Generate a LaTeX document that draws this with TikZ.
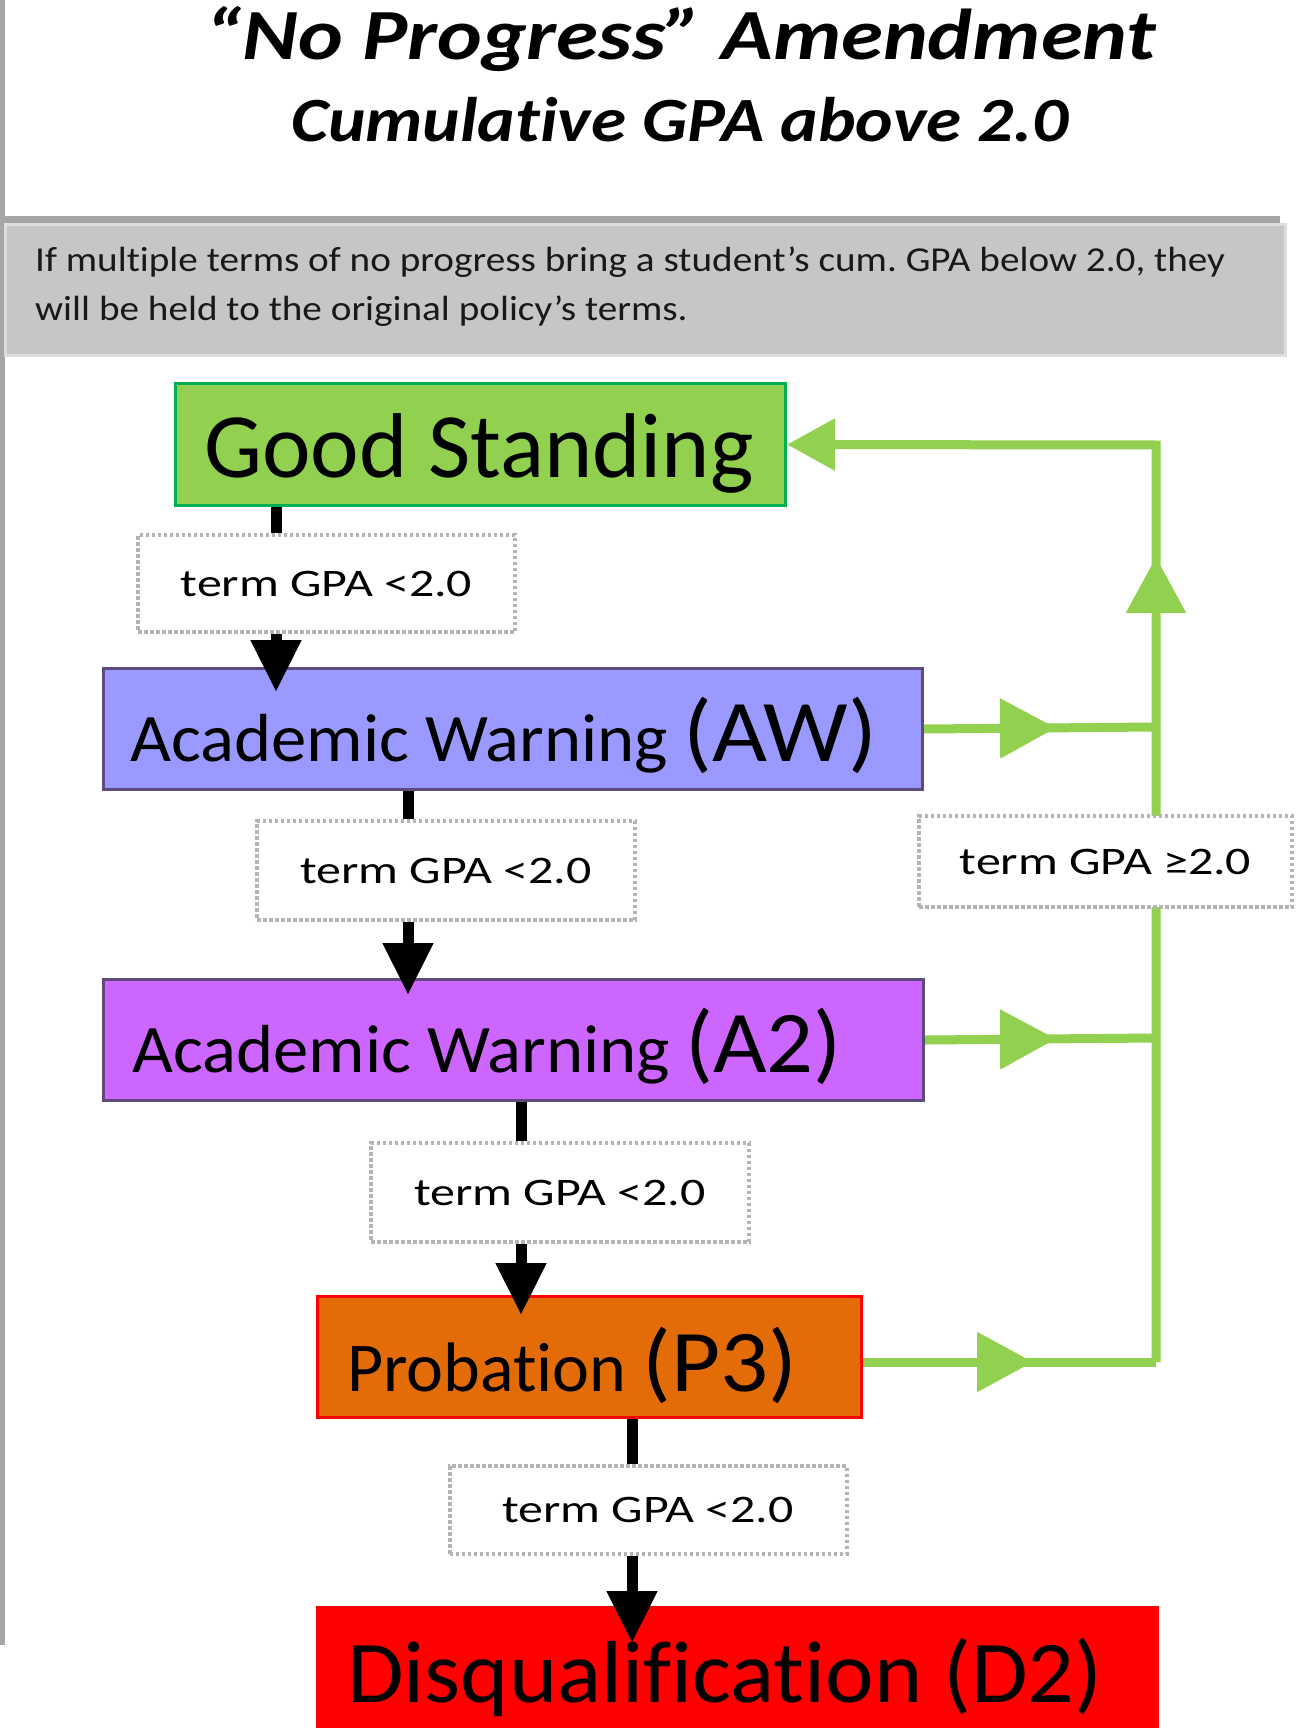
\documentclass[tikz,border=0pt]{standalone}
\usepackage{fontspec}
\usepackage{graphicx}
\setmainfont[Ligatures=CommonOff]{Carlito}
\usetikzlibrary{arrows.meta,decorations.markings}
\definecolor{gsfill}{HTML}{92D050}
\definecolor{gsdraw}{HTML}{00B050}
\definecolor{awfill}{HTML}{9999FF}
\definecolor{purpdraw}{HTML}{5F4A7E}
\definecolor{atwofill}{HTML}{CC66FF}
\definecolor{pfill}{HTML}{E36C09}
\definecolor{dfill}{HTML}{FF0000}
\definecolor{glinec}{HTML}{92D050}
\definecolor{dashgray}{HTML}{B4B4B4}
\definecolor{bandfill}{HTML}{C6C6C6}
\definecolor{bandedge}{HTML}{DDDDDD}
\definecolor{banddark}{HTML}{A6A6A6}
\newcommand{\hs}[2]{\scalebox{#1}[1]{#2}}
\frenchspacing
\begin{document}
\begin{tikzpicture}[x=1pt,y=-1pt,
  statebox/.style={rectangle, anchor=north west, inner sep=0pt, line width=3pt},
  lbl/.style={rectangle, draw=dashgray, fill=white, line width=4pt,
    dash pattern=on 3.5pt off 2.5pt, inner sep=0pt, text height=25pt, text depth=0pt,
    font=\fontsize{39}{39}\selectfont},
  stext/.style={anchor=base west, inner sep=0pt},
  blk/.style={line width=11pt, draw=black},
  blkarrow/.style={blk, -{Triangle[length=52pt,width=48pt]}},
  grn/.style={line width=9pt, draw=glinec},
  garrow/.style={postaction={decorate}, decoration={markings,
    mark=at position #1 with {\arrow{Triangle[length=56pt,width=58pt]}}}},
]
\useasboundingbox (0,0) rectangle (1295,1728);
\clip (0,0) rectangle (1295,1728);
\fill[white] (0,0) rectangle (1295,1728);

% left rule
\draw[banddark, line width=5pt] (2.5,0) -- (2.5,1645);

% titles
\node[anchor=base, inner sep=0pt, font=\fontsize{72}{72}\selectfont\bfseries\itshape] (title) at (681,60) {\hs{1.18}{“No Progress” Amendment}};
\node[anchor=base, inner sep=0pt, font=\fontsize{63}{63}\selectfont\bfseries\itshape] (subtitle) at (680,142) {\hs{1.13}{Cumulative GPA above 2.0}};

% note band
\fill[banddark] (0,216) rectangle (1280,224);
\node[anchor=north west, inner sep=0pt, fill=bandfill, draw=bandedge, line width=3pt,
  minimum width=1280pt, minimum height=131pt] (band) at (4,223) {};
\node[stext, font=\fontsize{35}{35}\selectfont, text=black!90] (bt1) at (35,272) {\hs{1.12}{If multiple terms of no progress bring a student’s cum. GPA below 2.0, they}};
\node[stext, font=\fontsize{35}{35}\selectfont, text=black!90] (bt2) at (35,320) {\hs{1.12}{will be held to the original policy’s terms.}};

% state boxes
\node[statebox, fill=gsfill, draw=gsdraw, minimum width=610pt, minimum height=122pt] (GS) at (174,382) {};
\node[statebox, fill=awfill, draw=purpdraw, minimum width=819pt, minimum height=121pt] (AW) at (102,667) {};
\node[statebox, fill=atwofill, draw=purpdraw, minimum width=820pt, minimum height=121pt] (A2) at (102,978) {};
\node[statebox, fill=pfill, draw=red, minimum width=544pt, minimum height=121pt] (P3) at (316,1295) {};
\node[statebox, fill=dfill, draw=red, minimum width=840pt, minimum height=200pt] (D2) at (316,1606) {};

\node[stext, font=\fontsize{92}{92}\selectfont] (GSt) at (204,477) {Good Standing};
\node[stext] (AWt) at (130,761) {\fontsize{68}{68}\selectfont\hs{1.04}{Academic Warning} \fontsize{88}{88}\selectfont\hs{1.08}{(AW)}};
\node[stext] (A2t) at (132,1072) {\fontsize{68}{68}\selectfont\hs{1.04}{Academic Warning} \fontsize{88}{88}\selectfont\hs{1.05}{(A2)}};
\node[stext] (P3t) at (347,1391) {\fontsize{70}{70}\selectfont Probation \fontsize{88}{88}\selectfont\hs{1.08}{(P3)}};
\node[stext, font=\fontsize{88}{88}\selectfont] (D2t) at (347,1702) {\hs{1.045}{Disqualification (D2)}};

% junction points of the green return line
\coordinate (jAW) at (1156,727);
\coordinate (jA2) at (1156,1038);
\coordinate (jP) at (1156,1362);
\coordinate (jT) at (1156,445);

% green connectors
\draw[grn, garrow=132pt] (AW.east) -- (jAW);
\draw[grn, garrow=131pt] (A2.east) -- (jA2);
\draw[grn, garrow=170pt] (P3.east |- jP) -- (jP);
\draw[grn, garrow=805pt, -{Triangle[length=48pt,width=50pt]}] (jP) -- (jT) -- (GS.east);

% condition labels
\node[lbl, minimum width=377pt, minimum height=97pt] (L1) at (326.5,583.5) {\hs{1.28}{term GPA <2.0}};
\node[lbl, minimum width=378pt, minimum height=99pt] (L2) at (446,870.5) {\hs{1.28}{term GPA <2.0}};
\node[lbl, minimum width=378pt, minimum height=99pt] (L3) at (560,1192.5) {\hs{1.28}{term GPA <2.0}};
\node[lbl, minimum width=397pt, minimum height=88pt] (L4) at (648,1510) {\hs{1.28}{term GPA <2.0}};
\node[lbl, minimum width=373pt, minimum height=91pt] (L5) at (1105.5,861.5) {\hs{1.28}{term GPA ≥2.0}};

% black connectors
\draw[blk] (276,0 |- GS.south) -- (276,0 |- L1.north);
\draw[blkarrow, shorten >=-25pt] (276,0 |- L1.south) -- (276,0 |- AW.north);
\draw[blk] (408,0 |- AW.south) -- (408,0 |- L2.north);
\draw[blkarrow, shorten >=-17pt] (408,0 |- L2.south) -- (408,0 |- A2.north);
\draw[blk] (521,0 |- A2.south) -- (521,0 |- L3.north);
\draw[blkarrow, shorten >=-20pt] (521,0 |- L3.south) -- (521,0 |- P3.north);
\draw[blk] (632,0 |- P3.south) -- (632,0 |- L4.north);
\draw[blkarrow, shorten >=-37pt] (632,0 |- L4.south) -- (632,0 |- D2.north);
\end{tikzpicture}
\end{document}
